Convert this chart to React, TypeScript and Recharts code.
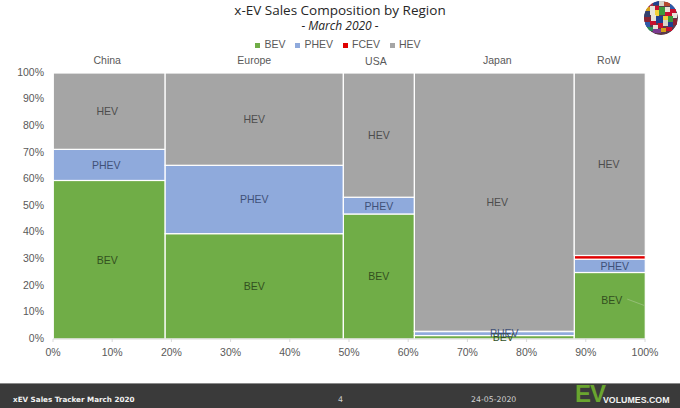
import React from "react";
import { BarChart, Bar, XAxis, YAxis, Legend, LabelList, ReferenceLine } from "recharts";

const regions = ["China", "Europe", "USA", "Japan", "RoW"];
const shares = [18.9, 30.1, 12, 27, 12];
const bev = [59.6, 39.6, 47, 1.3, 25];
const phev = [11.7, 25.7, 6.3, 1.5, 5];
const fcev = [0, 0, 0, 0.1, 1.4];
const hev = [28.7, 34.7, 46.7, 97.1, 68.6];
const xTicks = [0, 10, 20, 30, 40, 50, 60, 70, 80, 90, 100];
const yTicks = [0, 10, 20, 30, 40, 50, 60, 70, 80, 90, 100];

const WIDTH = 680;
const HEIGHT = 408;
const LEFT = 53;
const RIGHT = 35;
const PLOT_W = WIDTH - LEFT - RIGHT;
const FONT = "'Liberation Sans', Arial, sans-serif";
const GREY = "#595959";

let cum = 0;
const data = regions.map((region, i) => {
  const mid = cum + shares[i] / 2;
  cum += shares[i];
  return { region, mid, share: shares[i], BEV: bev[i], PHEV: phev[i], FCEV: fcev[i], HEV: hev[i] };
});

// manual label nudges, same as the hand-placed labels in the original
const labelNudge: any = {
  BEV: { China: [-2, 0], Japan: [9, 0], RoW: [2, -6] },
  PHEV: { China: [-3, 0], Japan: [10, -1], RoW: [5, 0] },
  HEV: { Japan: [3, 0], RoW: [-1, 0], China: [-2, 0] },
};
const labelColor: any = { BEV: "#33501f", PHEV: "#3f5178", HEV: "#4d4d4d" };
const regionNudge: any = { China: [-2, 0], USA: [-3, 1], Japan: [3, 0], RoW: [-1, 0] };

// a mekko column: the bar's height is from the library, its width from the region's share
const MekkoCell = (props: any) => {
  const { x, y, width, height, fill, payload } = props;
  if (!height || height <= 0) return null;
  const w = (payload.share / 100) * PLOT_W;
  return (
    <rect
      x={x + width / 2 - w / 2}
      y={y}
      width={w}
      height={height}
      fill={fill}
      stroke="#fff"
      strokeWidth={1.2}
    />
  );
};

const cellLabel = (name: string) => (props: any) => {
  const { x, y, width, height, index } = props;
  const nudge = labelNudge[name][regions[index]] || [0, 0];
  return (
    <text
      x={x + width / 2 + nudge[0]}
      y={y + height / 2 + nudge[1]}
      textAnchor="middle"
      dominantBaseline="central"
      fontFamily={FONT}
      fontSize={10.5}
      fill={labelColor[name]}
    >
      {name}
    </text>
  );
};

const regionLabel = (props: any) => {
  const { x, y, width, index } = props;
  const nudge = regionNudge[regions[index]] || [0, 0];
  return (
    <text
      x={x + width / 2 + nudge[0]}
      y={y - 13 + nudge[1]}
      textAnchor="middle"
      dominantBaseline="central"
      fontFamily={FONT}
      fontSize={10.5}
      fill={GREY}
    >
      {regions[index]}
    </text>
  );
};

const flags = [
  ["#a8324a", 646, 2, 7, 5],
  ["#1f3f8f", 653, 1, 6, 4],
  ["#d9d4c8", 659, 1, 5, 5],
  ["#b5482f", 664, 2, 6, 4],
  ["#2f5aa8", 670, 4, 5, 5],
  ["#d4a017", 645, 7, 5, 4],
  ["#e8e4da", 650, 6, 5, 9],
  ["#c8102e", 655, 6, 4, 4],
  ["#3c9a3c", 659, 7, 6, 8],
  ["#e8e4da", 665, 7, 5, 5],
  ["#c8102e", 670, 9, 6, 4],
  ["#34406e", 644, 11, 6, 6],
  ["#f2d13c", 655, 10, 4, 6],
  ["#c8102e", 665, 12, 7, 4],
  ["#e8e4da", 672, 13, 5, 5],
  ["#8a2332", 644, 17, 7, 5],
  ["#e8e4da", 651, 15, 5, 6],
  ["#1f3f8f", 656, 16, 7, 7],
  ["#f2d13c", 663, 16, 5, 4],
  ["#3c9a3c", 668, 16, 5, 6],
  ["#2f5aa8", 645, 22, 5, 5],
  ["#c8102e", 650, 21, 6, 4],
  ["#d9d4c8", 663, 20, 5, 6],
  ["#8a2332", 673, 19, 4, 6],
  ["#2a8a5a", 647, 27, 6, 4],
  ["#e8e4da", 653, 25, 5, 4],
  ["#c8102e", 658, 23, 5, 5],
  ["#1f3f8f", 668, 22, 5, 5],
  ["#7a3b8f", 653, 29, 8, 4],
  ["#d4a017", 661, 28, 5, 4],
  ["#c8102e", 666, 27, 6, 4],
];

export default function App() {
  return (
    <div style={{ position: "absolute", left: 0, top: 0, width: WIDTH, height: HEIGHT, overflow: "hidden", background: "#fff" }}>
      <BarChart
        width={WIDTH}
        height={HEIGHT}
        data={data}
        barSize={10}
        margin={{ top: 73, right: RIGHT, bottom: 49, left: 0 }}
      >
        <XAxis
          dataKey="mid"
          type="number"
          domain={[0, 100]}
          ticks={xTicks}
          tickFormatter={(v) => `${v}%`}
          interval={0}
          height={20}
          stroke="#d9d9d9"
          tickSize={3}
          tickMargin={7}
          tick={{ fill: GREY, fontSize: 10.5, fontFamily: FONT }}
        />
        <YAxis
          type="number"
          domain={[0, 100]}
          ticks={yTicks}
          tickFormatter={(v) => `${v}%`}
          interval={0}
          width={LEFT}
          axisLine={false}
          tickLine={false}
          tickMargin={3}
          tick={{ fill: GREY, fontSize: 10.5, fontFamily: FONT, dy: -1 }}
        />
        <Legend
          verticalAlign="top"
          iconType="square"
          iconSize={5}
          itemSorter={null}
          wrapperStyle={{ top: 38, left: 3, width: WIDTH, height: 0, fontFamily: FONT, fontSize: 10.5 }}
          formatter={(value) => <span style={{ color: GREY }}>{value}</span>}
        />
        <Bar dataKey="BEV" stackId="a" fill="#70ad47" shape={MekkoCell} isAnimationActive={false}>
          <LabelList content={cellLabel("BEV")} />
        </Bar>
        <Bar dataKey="PHEV" stackId="a" fill="#8faadc" shape={MekkoCell} isAnimationActive={false}>
          <LabelList content={cellLabel("PHEV")} />
        </Bar>
        <Bar dataKey="FCEV" stackId="a" fill="#e00000" shape={MekkoCell} isAnimationActive={false} />
        <Bar dataKey="HEV" stackId="a" fill="#a5a5a5" shape={MekkoCell} isAnimationActive={false}>
          <LabelList content={cellLabel("HEV")} />
          <LabelList content={regionLabel} />
        </Bar>
        <ReferenceLine
          segment={[{ x: 97, y: 15 }, { x: 100, y: 12.5 }]}
          stroke="#a3c48a"
          strokeWidth={0.7}
        />
        <text x={340} y={15} textAnchor="middle" fontFamily="'Open Sans', sans-serif" fontSize={13.5} fill="#262626">
          x-EV Sales Composition by Region
        </text>
        <text x={340} y={30} textAnchor="middle" fontFamily="'Open Sans', sans-serif" fontStyle="italic" fontSize={12} fill="#262626">
          - March 2020 -
        </text>
      </BarChart>

      <svg width={WIDTH} height={HEIGHT} style={{ position: "absolute", left: 0, top: 0, pointerEvents: "none" }}>
        <defs>
          <clipPath id="globe">
            <circle cx={661} cy={18} r={17} />
          </clipPath>
        </defs>
        <g clipPath="url(#globe)">
          <circle cx={661} cy={18} r={17} fill="#5b3a4a" />
          {flags.map((f, i) => (
            <rect key={i} x={f[1] as number} y={f[2] as number} width={f[3] as number} height={f[4] as number} fill={f[0] as string} />
          ))}
        </g>
      </svg>

      <div style={{ position: "absolute", left: 0, top: 383, width: WIDTH, height: 25, background: "#3a3a3a", borderTop: "1px solid #8a8a8a", boxSizing: "border-box" }}>
        <span style={{ position: "absolute", left: 13, top: 11, fontFamily: "'DejaVu Sans', sans-serif", fontWeight: "bold", fontSize: 7.2, color: "#f2f2f2", whiteSpace: "nowrap" }}>
          xEV Sales Tracker March 2020
        </span>
        <span style={{ position: "absolute", left: 338, top: 11, fontFamily: "'DejaVu Sans', sans-serif", fontSize: 7.8, color: "#d0d0d0" }}>4</span>
        <span style={{ position: "absolute", left: 471, top: 11, fontFamily: "'DejaVu Sans', sans-serif", fontSize: 7.8, color: "#d0d0d0", whiteSpace: "nowrap" }}>
          24-05-2020
        </span>
        <span style={{ position: "absolute", left: 575, top: -2, fontFamily: FONT, fontWeight: "bold", fontSize: 24, lineHeight: "24px", color: "#6aa52f", letterSpacing: -1 }}>
          EV
        </span>
        <span style={{ position: "absolute", left: 603, top: 11, fontFamily: FONT, fontWeight: "bold", fontSize: 8.8, color: "#f2f2f2", whiteSpace: "nowrap" }}>
          VOLUMES.COM
        </span>
      </div>
    </div>
  );
}
